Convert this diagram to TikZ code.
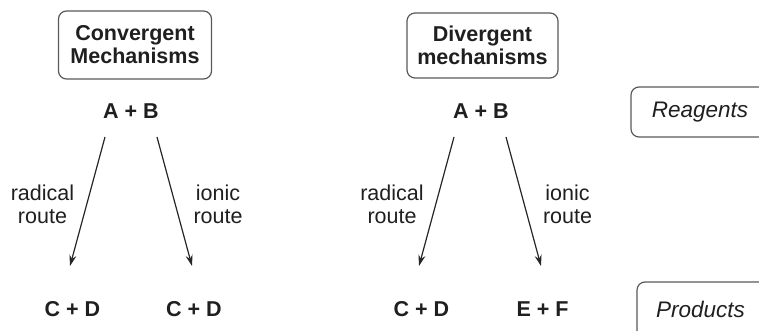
\documentclass[tikz,border=0pt]{standalone}
\usepackage{fontspec}
\setmainfont{Liberation Sans}
\usetikzlibrary{arrows.meta}
\begin{document}
\begin{tikzpicture}[x=1pt,y=-1pt,
  txt/.style={font=\fontsize{21.5}{23}\selectfont, text=black!88, inner sep=0pt, align=center},
  bold/.style={txt, font=\fontsize{21.5}{23}\selectfont\bfseries},
  ital/.style={txt, font=\fontsize{22.5}{24}\selectfont\itshape},
  hbox/.style={draw=black!65, line width=1.2pt, rounded corners=8pt},
  arr/.style={draw=black!85, line width=1.2pt, -{Stealth[length=11pt,width=7pt]}}]
\useasboundingbox (0,0) rectangle (759,331);
\clip (0,0) rectangle (759,331);
% header boxes
\node[hbox, minimum width=153pt, minimum height=68pt] (convbox) at (135,45) {};
\node[bold] (convtxt) at (convbox.center) {Convergent\\Mechanisms};
\node[hbox, minimum width=151pt, minimum height=65pt] (divbox) at (482.5,45.5) {};
\node[bold] (divtxt) at (divbox.center) {Divergent\\mechanisms};
% side boxes
\draw[hbox] (631,87) rectangle (775,137);
\node[ital] (reag) at (700,112) {Reagents};
\draw[hbox] (637,282) rectangle (775,350);
\node[ital] (prod) at (700.5,309) {Products};
% left panel
\node[bold] (ab1) at (131,111) {A + B};
\node[bold] (cd1) at (72.5,309) {C + D};
\node[bold] (cd2) at (194,309) {C + D};
\coordinate (s1) at (105,137); \coordinate (e1) at (70,266);
\coordinate (s2) at (157,137); \coordinate (e2) at (192,266);
\draw[arr] (s1) -- (e1);
\draw[arr] (s2) -- (e2);
\node[txt] (rad1) at (42.5,204) {radical\\route};
\node[txt] (ion1) at (218,204) {ionic\\route};
% right panel
\node[bold] (ab2) at (481,111) {A + B};
\node[bold] (cd3) at (421.5,309) {C + D};
\node[bold] (ef) at (542.5,309) {E + F};
\coordinate (s3) at (454,137); \coordinate (e3) at (419,266);
\coordinate (s4) at (506,137); \coordinate (e4) at (541,266);
\draw[arr] (s3) -- (e3);
\draw[arr] (s4) -- (e4);
\node[txt] (rad2) at (392,204) {radical\\route};
\node[txt] (ion2) at (567.5,204) {ionic\\route};
\end{tikzpicture}
\end{document}
